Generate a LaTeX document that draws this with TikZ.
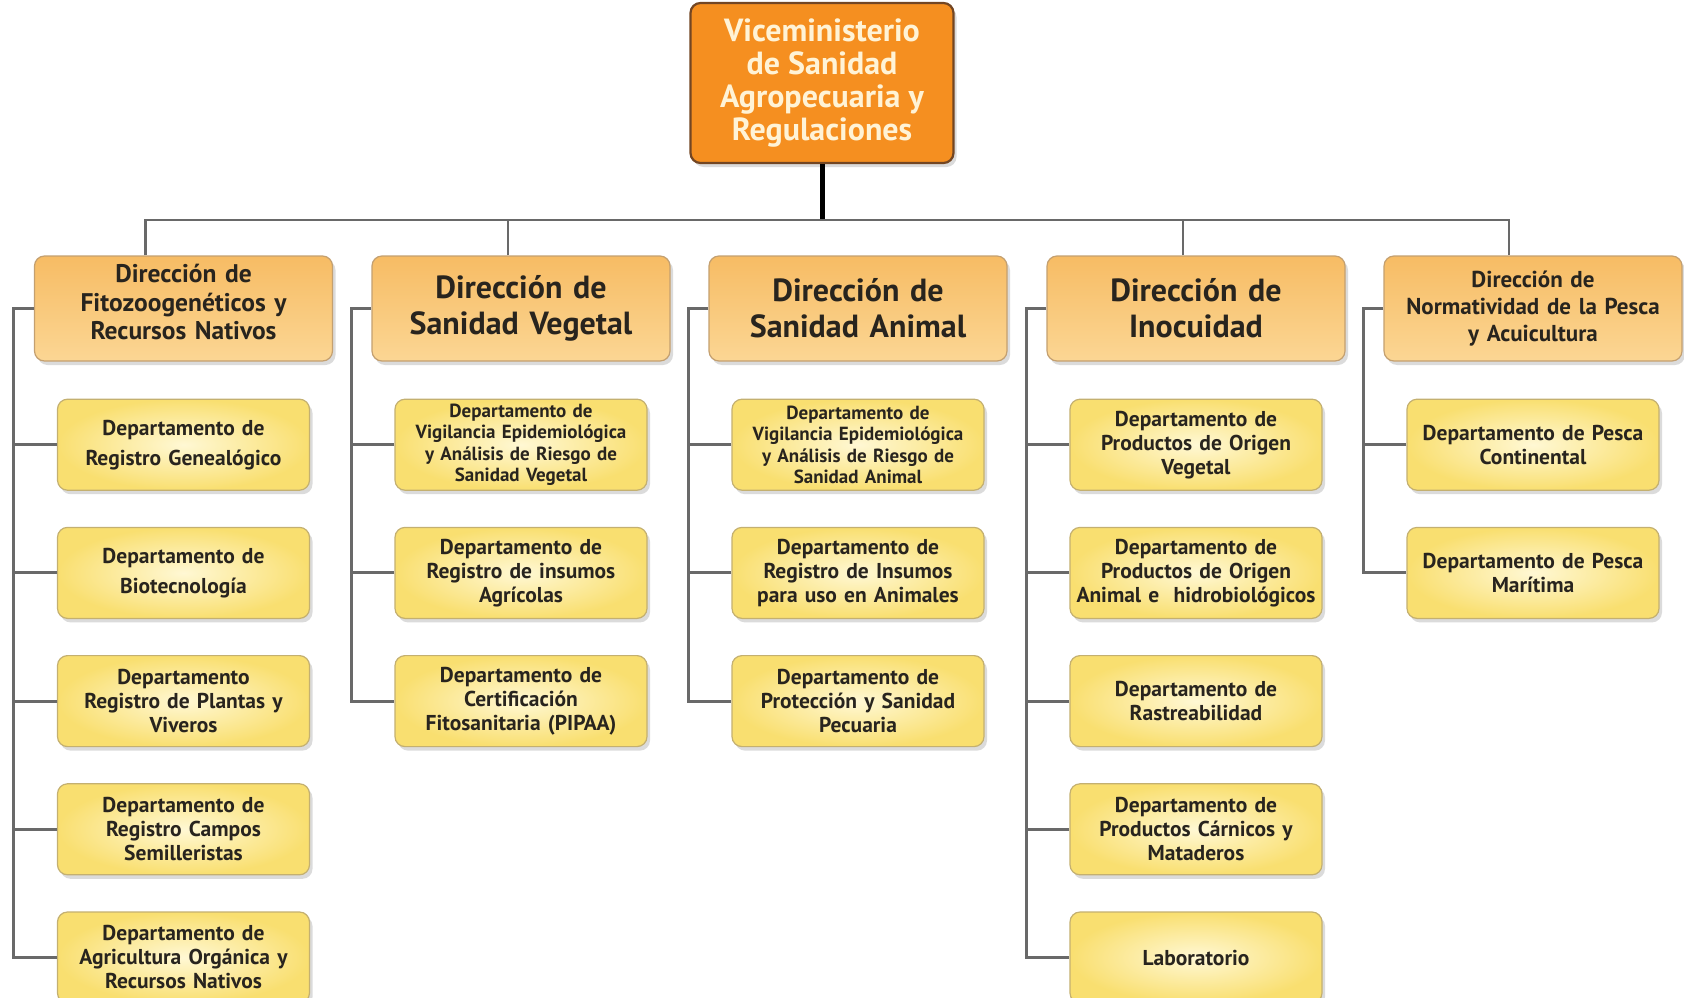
\documentclass[tikz,border=0pt]{standalone}
\usepackage{fontspec}
\setmainfont{PT Sans}
\usetikzlibrary{positioning,shadows,calc}
\definecolor{viceorange}{RGB}{245,143,32}
\definecolor{viceborder}{RGB}{115,70,35}
\definecolor{vicetext}{RGB}{255,243,214}
\definecolor{dirtop}{RGB}{247,188,100}
\definecolor{dirbottom}{RGB}{251,214,148}
\definecolor{dirborder}{RGB}{196,160,112}
\definecolor{deptin}{RGB}{255,248,212}
\definecolor{deptout}{RGB}{249,223,112}
\definecolor{deptborder}{RGB}{196,176,112}
\definecolor{linegray}{RGB}{105,105,105}
\definecolor{inkdark}{RGB}{40,36,30}
\tikzset{
  boxbase/.style={rounded corners=10pt, align=center, inner xsep=1pt, inner ysep=3pt,
                  drop shadow={opacity=0.28, shadow xshift=3pt, shadow yshift=-4pt}},
  vice/.style={boxbase, draw=viceborder, line width=2.2pt, fill=viceorange, text=vicetext,
               minimum width=263pt, minimum height=160pt,
               font=\bfseries\fontsize{32}{33}\selectfont},
  dir/.style={boxbase, draw=dirborder, line width=1.2pt, top color=dirtop, bottom color=dirbottom,
              text=inkdark, minimum width=298pt, minimum height=105pt, text width=294pt,
              font=\bfseries\fontsize{32}{36}\selectfont},
  dirsmall/.style={dir, text depth=69.5pt, font=\bfseries\fontsize{25.5}{28.5}\selectfont},
  dirtiny/.style={dir, font=\bfseries\fontsize{23}{27}\selectfont},
  dept/.style={boxbase, draw=deptborder, line width=1.2pt, shading=radial,
               inner color=deptin, outer color=deptout, text=inkdark,
               minimum width=252pt, minimum height=91pt, text width=250pt,
               font=\bfseries\fontsize{21.5}{24}\selectfont},
  deptsmall/.style={dept, font=\bfseries\fontsize{19}{21.5}\selectfont},
  stem/.style={line width=5pt, black},
  bus/.style={line width=2.6pt, linegray},
  rail/.style={line width=3pt, linegray}
}

\begin{document}
\begin{tikzpicture}[x=1pt, y=-1pt, node distance=36pt]
\path[use as bounding box, fill=white] (0,0) rectangle (1684,998);

% viceministerio
\node (vice) [vice] at (822,83) {Viceministerio\\de Sanidad\\Agropecuaria y\\Regulaciones};
\coordinate (bus) at (822,220);

% direcciones
\node (d1) [dirsmall] at (183.5,308.5) {Dirección de\\Fitozoogenéticos y\\Recursos Nativos};
\node (d2) [dir] at (521,308.5) {Dirección de\\Sanidad Vegetal};
\node (d3) [dir] at (858,308.5) {Dirección de\\Sanidad Animal};
\node (d4) [dir] at (1196,308.5) {Dirección de\\Inocuidad};
\node (d5) [dirtiny] at (1533,308.5) {Dirección de\\Normatividad de la Pesca\\y Acuicultura};

% departamentos
\node (d1a) [dept, below=37pt of d1] {Departamento de\\[6pt]Registro Genealógico};
\node (d1b) [dept, below=of d1a] {Departamento de\\[6pt]Biotecnología};
\node (d1c) [dept, below=of d1b] {Departamento\\Registro de Plantas y\\Viveros};
\node (d1d) [dept, below=of d1c] {Departamento de\\Registro Campos\\Semilleristas};
\node (d1e) [dept, below=of d1d] {Departamento de\\Agricultura Orgánica y\\Recursos Nativos};

\node (d2a) [deptsmall, below=37pt of d2] {Departamento de\\Vigilancia Epidemiológica\\y Análisis de Riesgo de\\Sanidad Vegetal};
\node (d2b) [dept, below=of d2a] {Departamento de\\Registro de insumos\\Agrícolas};
\node (d2c) [dept, below=of d2b] {Departamento de\\Certificación\\Fitosanitaria (PIPAA)};

\node (d3a) [deptsmall, below=37pt of d3] {Departamento de\\Vigilancia Epidemiológica\\y Análisis de Riesgo de\\Sanidad Animal};
\node (d3b) [dept, below=of d3a] {Departamento de\\Registro de Insumos\\para uso en Animales};
\node (d3c) [dept, below=of d3b] {Departamento de\\Protección y Sanidad\\Pecuaria};

\node (d4a) [dept, below=37pt of d4] {Departamento de\\Productos de Origen\\Vegetal};
\node (d4b) [dept, below=of d4a] {Departamento de\\Productos de Origen\\Animal e\ \ hidrobiológicos};
\node (d4c) [dept, below=of d4b] {Departamento de\\Rastreabilidad};
\node (d4d) [dept, below=of d4c] {Departamento de\\Productos Cárnicos y\\Mataderos};
\node (d4e) [dept, below=of d4d] {Laboratorio};

\node (d5a) [dept, below=37pt of d5] {Departamento de Pesca\\Continental};
\node (d5b) [dept, below=of d5a] {Departamento de Pesca\\Marítima};

% lineas de mando
\draw[stem] (vice.south) -- (vice.south |- bus);
\draw[bus] ([xshift=-38pt]d1.north) |- (bus) -| ([xshift=-24pt]d5.north);
\draw[bus] ([xshift=-13pt]d2.north) -- ([xshift=-13pt]d2.north |- bus);
\draw[bus] ([xshift=-13pt]d4.north) -- ([xshift=-13pt]d4.north |- bus);

\foreach \d/\last/\others in {d1/d1e/{d1a,d1b,d1c,d1d}, d2/d2c/{d2a,d2b},
                              d3/d3c/{d3a,d3b}, d4/d4e/{d4a,d4b,d4c,d4d}, d5/d5b/{d5a}} {
  \coordinate (r) at ([xshift=-20pt]\d.west);
  \draw[rail] (\d.west) -- (r) |- (\last.west);
  \foreach \o in \others
    \draw[rail] (\o.west) -- (\o.west -| r);
}
\end{tikzpicture}
\end{document}
